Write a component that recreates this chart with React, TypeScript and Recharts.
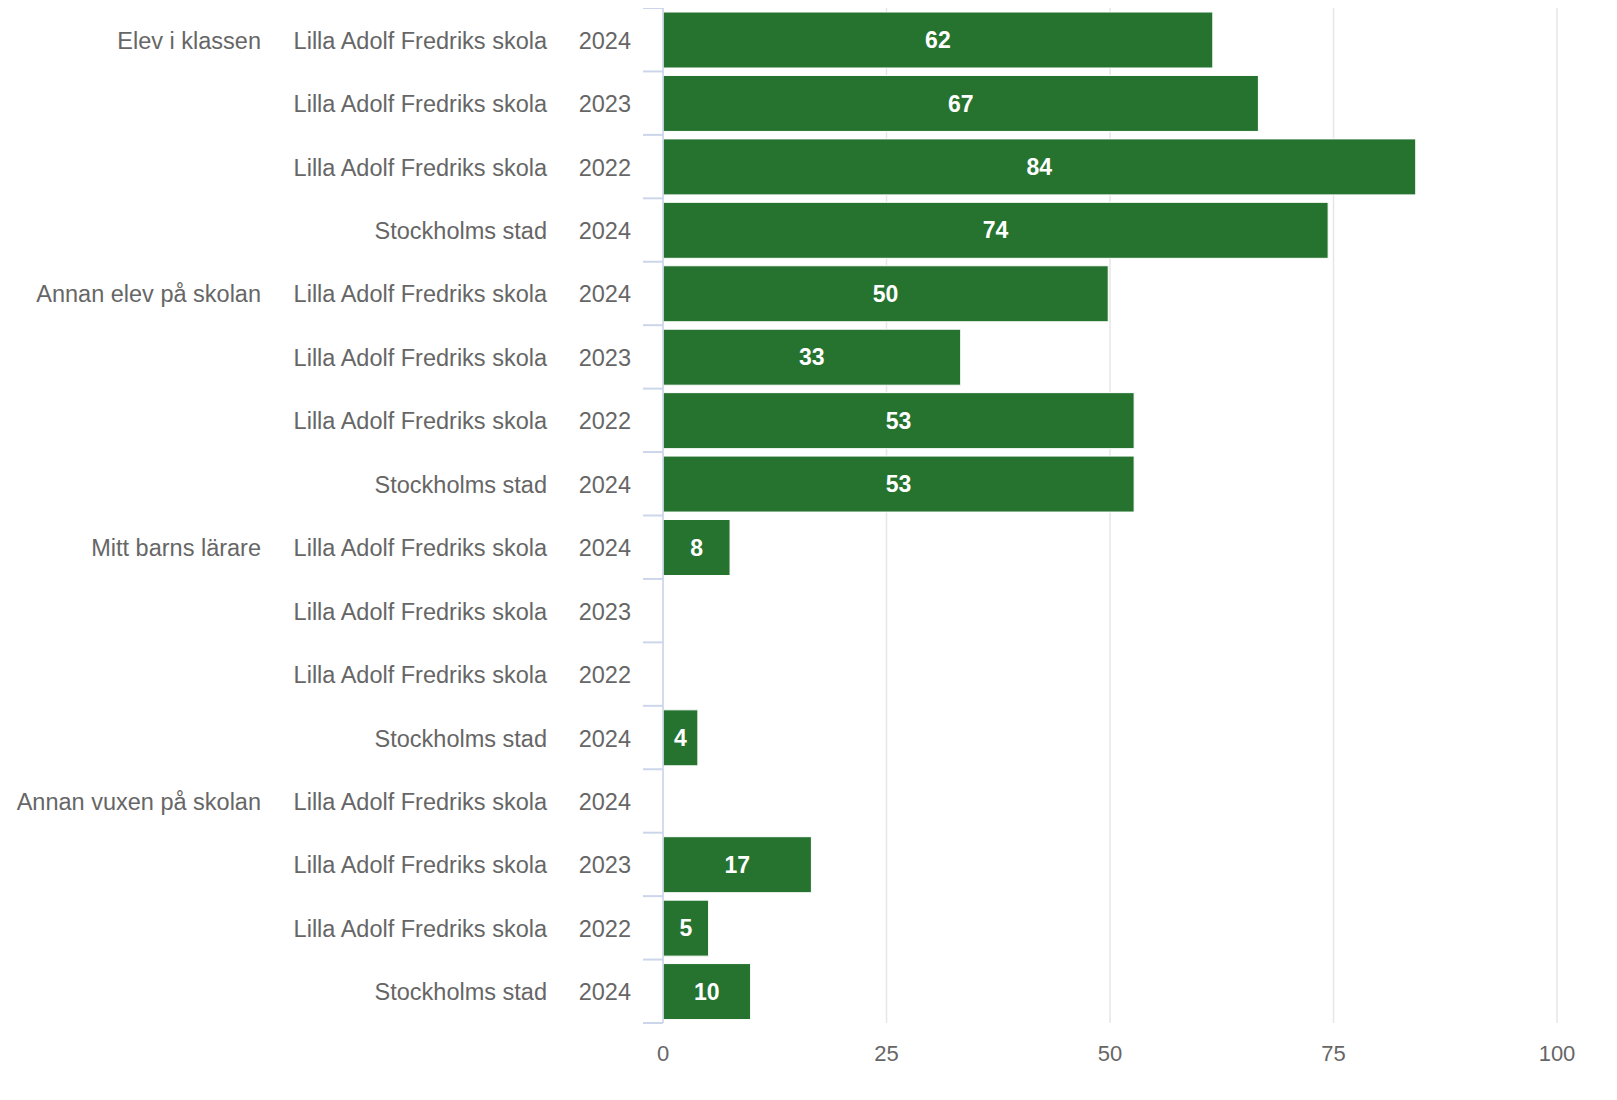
import React from "react";
import { BarChart, Bar, XAxis, YAxis, CartesianGrid, LabelList } from "recharts";

const groups = ["Elev i klassen", "Annan elev på skolan", "Mitt barns lärare", "Annan vuxen på skolan"];
const units = ["Lilla Adolf Fredriks skola", "Lilla Adolf Fredriks skola", "Lilla Adolf Fredriks skola", "Stockholms stad"];
const years = ["2024", "2023", "2022", "2024"];

// one row per group x unit, in display order
const values: (number | null)[] = [
  61.5, 66.6, 84.2, 74.4,
  49.8, 33.3, 52.7, 52.7,
  7.5, null, null, 3.9,
  null, 16.6, 5.1, 9.8,
];

const xTicks = [0, 25, 50, 75, 100];

const W = 1601;
const H = 1092;
const PLOT_TOP = 0;
const PLOT_BOTTOM = 1015;
const PLOT_LEFT = 655;
const PLOT_RIGHT = 1549;
const BAND = (PLOT_BOTTOM - PLOT_TOP) / values.length;

const data = values.map((v, i) => ({
  key: String(i),
  group: groups[Math.floor(i / units.length)],
  unit: units[i % units.length],
  year: years[i % years.length],
  first: i % units.length === 0,
  value: v,
}));

const FONT = '"Liberation Sans", Arial, Helvetica, sans-serif';

function CategoryTick(props: any) {
  const { x, y, payload } = props;
  const i = payload.index;
  const row = data[i];
  const top = y - BAND / 2;
  return (
    <g fontFamily={FONT} fontSize={23.5} fill="#666666">
      <line x1={x - 20} x2={x} y1={top} y2={top} stroke="#ccd6eb" strokeWidth={2} />
      {i === data.length - 1 && (
        <line x1={x - 20} x2={x} y1={top + BAND} y2={top + BAND} stroke="#ccd6eb" strokeWidth={2} />
      )}
      <text x={x - 32} y={y + 1} textAnchor="end" dominantBaseline="central">{row.year}</text>
      <text x={x - 116} y={y + 1} textAnchor="end" dominantBaseline="central">{row.unit}</text>
      {row.first && (
        <text x={x - 402} y={y + 1} textAnchor="end" dominantBaseline="central">{row.group}</text>
      )}
    </g>
  );
}

export default function App() {
  return (
    <BarChart
      width={W}
      height={H}
      data={data}
      layout="vertical"
      margin={{ top: PLOT_TOP, right: W - PLOT_RIGHT, left: 0, bottom: H - PLOT_BOTTOM - 40 }}
    >
      <CartesianGrid horizontal={false} stroke="#e6e6e6" strokeWidth={1.5} />
      <XAxis
        type="number"
        domain={[0, 100]}
        ticks={xTicks}
        axisLine={false}
        tickLine={false}
        tickSize={0}
        tickMargin={22}
        height={40}
        tick={{ fill: "#666666", fontSize: 22, fontFamily: FONT }}
      />
      <YAxis
        type="category"
        dataKey="key"
        width={PLOT_LEFT}
        tickSize={0}
        tickMargin={0}
        tickLine={false}
        axisLine={{ stroke: "#ccd6eb", strokeWidth: 1.5 }}
        tick={<CategoryTick />}
        interval={0}
      />
      <Bar dataKey="value" fill="#267330" stroke="#ffffff" strokeWidth={1} barSize={56} isAnimationActive={false}>
        <LabelList
          dataKey="value"
          position="center"
          formatter={(v: any) => (v == null ? "" : String(Math.round(v)))}
          fill="#ffffff"
          fontSize={23}
          fontWeight="bold"
          fontFamily={FONT}
        />
      </Bar>
    </BarChart>
  );
}
